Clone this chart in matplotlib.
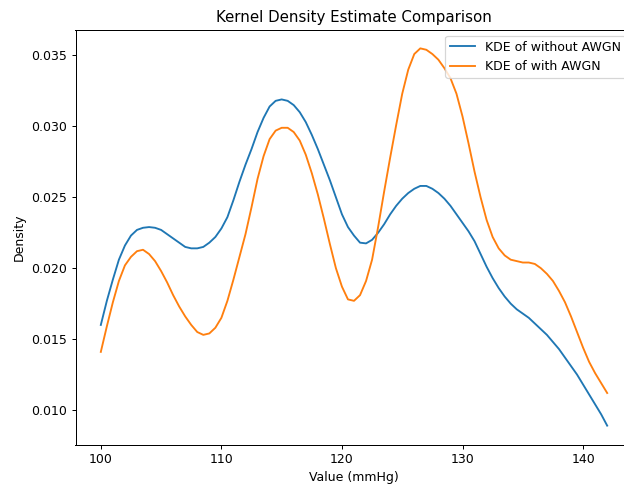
import matplotlib
matplotlib.use("Agg")
import matplotlib.pyplot as plt
import numpy as np

# Evaluation grid (mmHg) and densities
x_values = np.arange(100.0, 142.01, 0.5)

kde_without = [
    0.0160, 0.0177, 0.0192, 0.0206, 0.0216, 0.0223, 0.0227, 0.02285, 0.0229, 0.02285,  # 100-104.5
    0.0227, 0.0224, 0.0221, 0.0218, 0.0215, 0.0214, 0.0214, 0.0215, 0.0218, 0.0222,    # 105-109.5
    0.0228, 0.0236, 0.0248, 0.0261, 0.0273, 0.0284, 0.0296, 0.0306, 0.0314, 0.0318,    # 110-114.5
    0.0319, 0.0318, 0.0315, 0.0310, 0.0303, 0.0294, 0.0284, 0.0273, 0.0262, 0.0250,    # 115-119.5
    0.0238, 0.0229, 0.0223, 0.0218, 0.02175, 0.0220, 0.0225, 0.0231, 0.0238, 0.0244,   # 120-124.5
    0.0249, 0.0253, 0.0256, 0.0258, 0.0258, 0.0256, 0.0253, 0.0249, 0.0244, 0.0238,    # 125-129.5
    0.0232, 0.0226, 0.0219, 0.0210, 0.0201, 0.0193, 0.0186, 0.0180, 0.0175, 0.0171,    # 130-134.5
    0.0168, 0.0165, 0.0161, 0.0157, 0.0153, 0.0148, 0.0143, 0.0137, 0.0131, 0.0125,    # 135-139.5
    0.0118, 0.0111, 0.0104, 0.0097, 0.0089,                                            # 140-142
]

kde_with = [
    0.0141, 0.0159, 0.0176, 0.0191, 0.0202, 0.0208, 0.0212, 0.0213, 0.0210, 0.0205,  # 100-104.5
    0.0198, 0.0190, 0.0181, 0.0173, 0.0166, 0.0160, 0.0155, 0.0153, 0.0154, 0.0158,  # 105-109.5
    0.0165, 0.0177, 0.0192, 0.0208, 0.0224, 0.0243, 0.0263, 0.0279, 0.0291, 0.0297,  # 110-114.5
    0.0299, 0.0299, 0.0296, 0.0290, 0.0280, 0.0267, 0.0252, 0.0235, 0.0217, 0.0200,  # 115-119.5
    0.0187, 0.0178, 0.0177, 0.0181, 0.0191, 0.0206, 0.0229, 0.0254, 0.0278, 0.0301,  # 120-124.5
    0.0323, 0.0340, 0.0351, 0.0355, 0.0354, 0.0351, 0.0347, 0.0341, 0.0334, 0.0323,  # 125-129.5
    0.0307, 0.0288, 0.0268, 0.0250, 0.0234, 0.0222, 0.0214, 0.0209, 0.0206, 0.0205,  # 130-134.5
    0.0204, 0.0204, 0.0203, 0.0200, 0.0196, 0.0191, 0.0184, 0.0176, 0.0166, 0.0155,  # 135-139.5
    0.0144, 0.0134, 0.0126, 0.0119, 0.0112,                                          # 140-142
]

labels = ["KDE of without AWGN", "KDE of with AWGN"]
x_ticks = [100, 110, 120, 130, 140]
y_ticks = [0.010, 0.015, 0.020, 0.025, 0.030, 0.035]

DPI = 89.7
W, H = 624, 485
fig = plt.figure(figsize=(W / DPI, H / DPI), dpi=DPI)
ax = fig.add_axes([75.5 / W, (H - 444.5) / H, 557 / W, 415 / H])

ax.plot(x_values, kde_without, color="#1f77b4", lw=1.5, label=labels[0])
ax.plot(x_values, kde_with, color="#ff7f0e", lw=1.5, label=labels[1])

ax.set_xticks(x_ticks)
ax.set_yticks(y_ticks)
ax.set_xlabel("Value (mmHg)")
ax.set_ylabel("Density")
ax.set_title("Kernel Density Estimate Comparison")
ax.legend(loc="upper right")

fig.savefig("out.png", dpi=DPI)
